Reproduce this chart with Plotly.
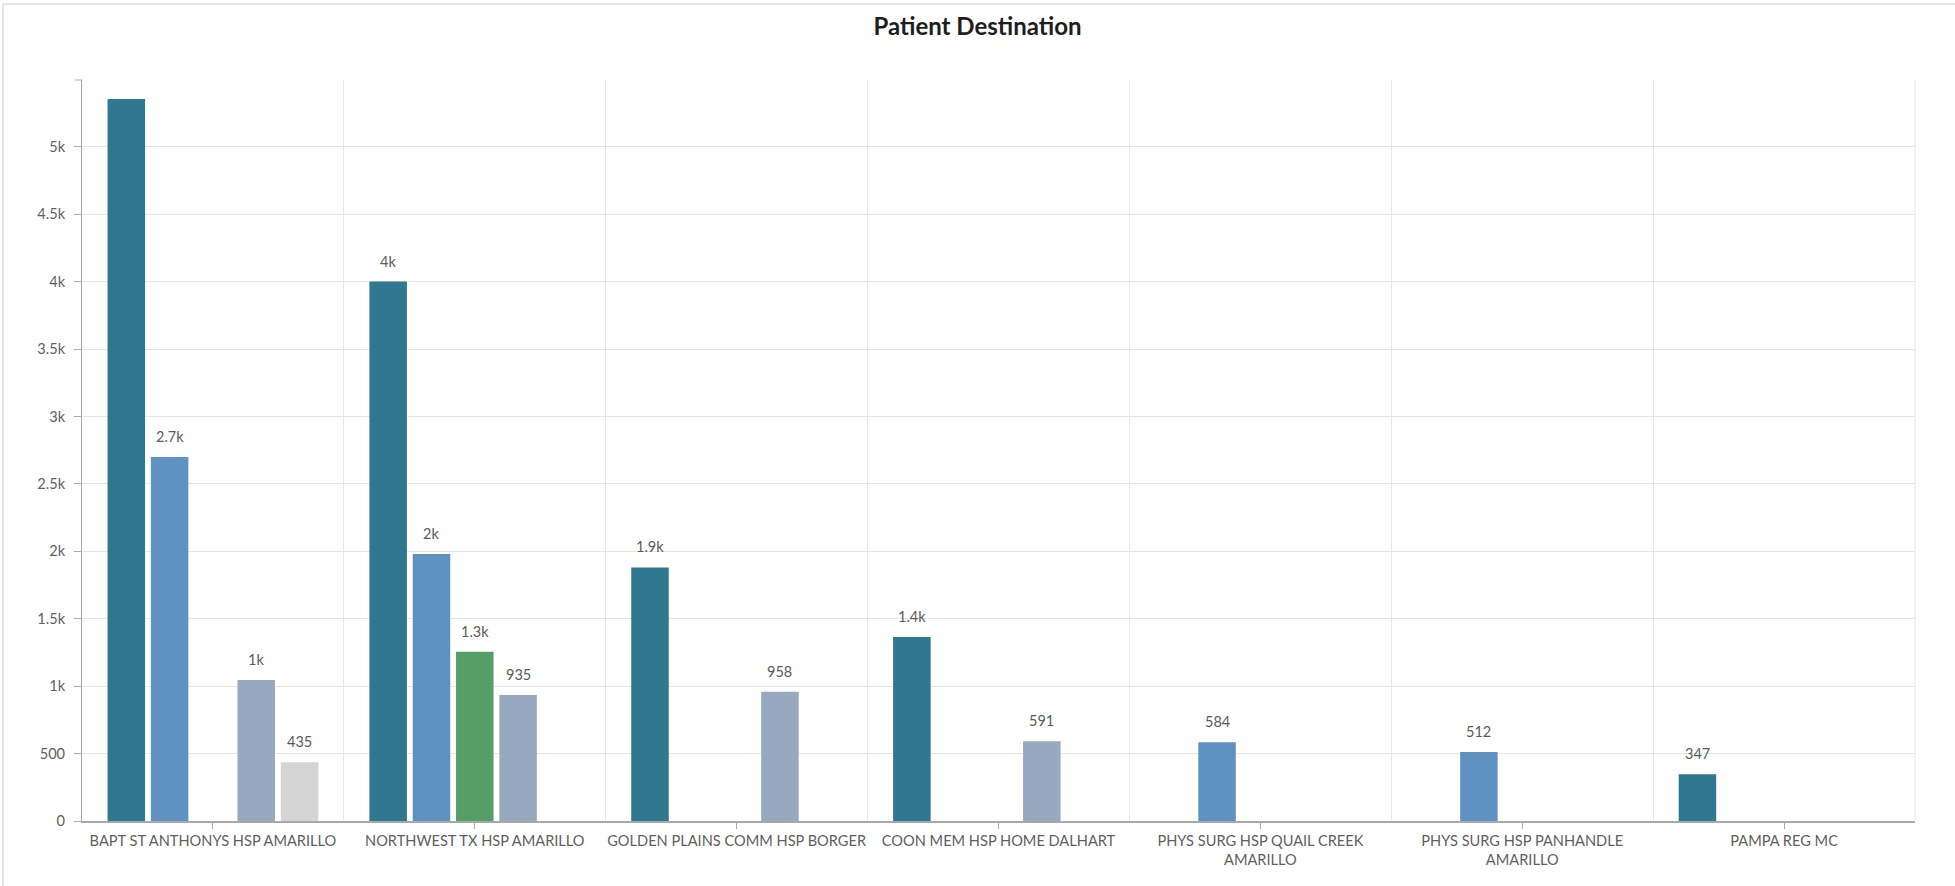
import plotly.graph_objects as go

categories = [
    "BAPT ST ANTHONYS HSP AMARILLO",
    "NORTHWEST TX HSP AMARILLO",
    "GOLDEN PLAINS COMM HSP BORGER",
    "COON MEM HSP HOME DALHART",
    "PHYS SURG HSP QUAIL CREEK<br>AMARILLO",
    "PHYS SURG HSP PANHANDLE<br>AMARILLO",
    "PAMPA REG MC",
]

series_1 = [5355, 4000, 1880, 1365, None, None, 347]
series_2 = [2700, 1980, None, None, 584, 512, None]
series_3 = [None, 1255, None, None, None, None, None]
series_4 = [1045, 935, 958, 591, None, None, None]
series_5 = [435, None, None, None, None, None, None]

series_names = ["Series 1", "Series 2", "Series 3", "Series 4", "Series 5"]
series_values = [series_1, series_2, series_3, series_4, series_5]
colors = ["#2f788f", "#5f91c1", "#559e68", "#98a8be", "#d4d4d4"]

y_max = 5495
BARGAP = 0.173
BARGROUPGAP = 0.134


def fmt(v):
    if v >= 1000:
        s = f"{v/1000:.1f}".rstrip("0").rstrip(".")
        return s + "k"
    return str(v)


x_pos = list(range(len(categories)))
n_series = len(series_values)
slot = (1 - BARGAP) / n_series

fig = go.Figure()
annotations = []
for si, (name, vals, col) in enumerate(zip(series_names, series_values, colors)):
    fig.add_trace(go.Bar(
        x=x_pos, y=vals, name=name,
        marker=dict(color=col, line=dict(width=0)),
    ))
    for xi, v in zip(x_pos, vals):
        # labels that would overflow the top of the plot are not shown
        if v is None or v > y_max * 0.92:
            continue
        annotations.append(dict(
            x=xi + (si - (n_series - 1) / 2) * slot, y=v,
            xref="x", yref="y", text=fmt(v), showarrow=False,
            xanchor="center", yanchor="bottom", yshift=10,
            font=dict(family="Lato", size=14.5, color="#5a5a5a"),
        ))

W, H = 1955, 886
L, R, T, B = 82, 40, 80, 65
pw, ph = W - L - R, H - T - B

fig.update_layout(
    width=W, height=H,
    margin=dict(l=L, r=R, t=T, b=B, autoexpand=False),
    paper_bgcolor="white", plot_bgcolor="white",
    barmode="group", bargap=BARGAP, bargroupgap=BARGROUPGAP,
    showlegend=False,
    font=dict(family="Lato", color="#5f5f5f"),
    title=dict(text="<b>Patient Destination</b>", x=0.5, xanchor="center",
               y=1 - 27 / H, yanchor="middle",
               font=dict(family="Lato", size=24, color="#1e1e1e")),
    xaxis=dict(
        range=[-0.5, len(categories) - 0.5],
        tickmode="array", tickvals=x_pos, ticktext=categories,
        showgrid=False, zeroline=False,
        ticks="outside", ticklen=6, tickcolor="#aaaaaa",
        showline=True, linecolor="#a8a8a8", linewidth=1.5,
        tickfont=dict(family="Lato", size=14.6, color="#5f5f5f"),
        minor=dict(tick0=0.5, dtick=1, showgrid=True, gridcolor="#e6e6e6",
                   gridwidth=1, ticks=""),
    ),
    yaxis=dict(
        range=[0, y_max], dtick=500, tick0=0, tickformat="~s",
        showgrid=True, gridcolor="#e6e6e6", gridwidth=1,
        zeroline=False,
        ticks="outside", ticklen=7, tickcolor="#aaaaaa",
        showline=True, linecolor="#a8a8a8", linewidth=1,
        tickfont=dict(family="Lato", size=14.6, color="#5f5f5f"),
        ticklabelstandoff=6,
    ),
    annotations=annotations,
)

# right edge grid line of the plot area
fig.add_shape(type="line", xref="paper", yref="paper", x0=1, x1=1, y0=0, y1=1,
              line=dict(color="#e6e6e6", width=1), layer="below")
# small tick at the top end of the value axis
fig.add_shape(type="line", xref="paper", yref="paper", x0=-7 / pw, x1=0, y0=1, y1=1,
              line=dict(color="#aaaaaa", width=1))

# card border (top and left)
xl = (3 - L) / pw
yt = (H - B - 4) / ph
yb = -B / ph
xr = (W - L) / pw
fig.add_shape(type="line", xref="paper", yref="paper", x0=xl, x1=xr, y0=yt, y1=yt,
              line=dict(color="#dedede", width=1.5))
fig.add_shape(type="line", xref="paper", yref="paper", x0=xl, x1=xl, y0=yb, y1=yt,
              line=dict(color="#dedede", width=1.5))

fig.write_html("out.html", config={"displayModeBar": False},
               post_script="document.body.style.margin='0';")
